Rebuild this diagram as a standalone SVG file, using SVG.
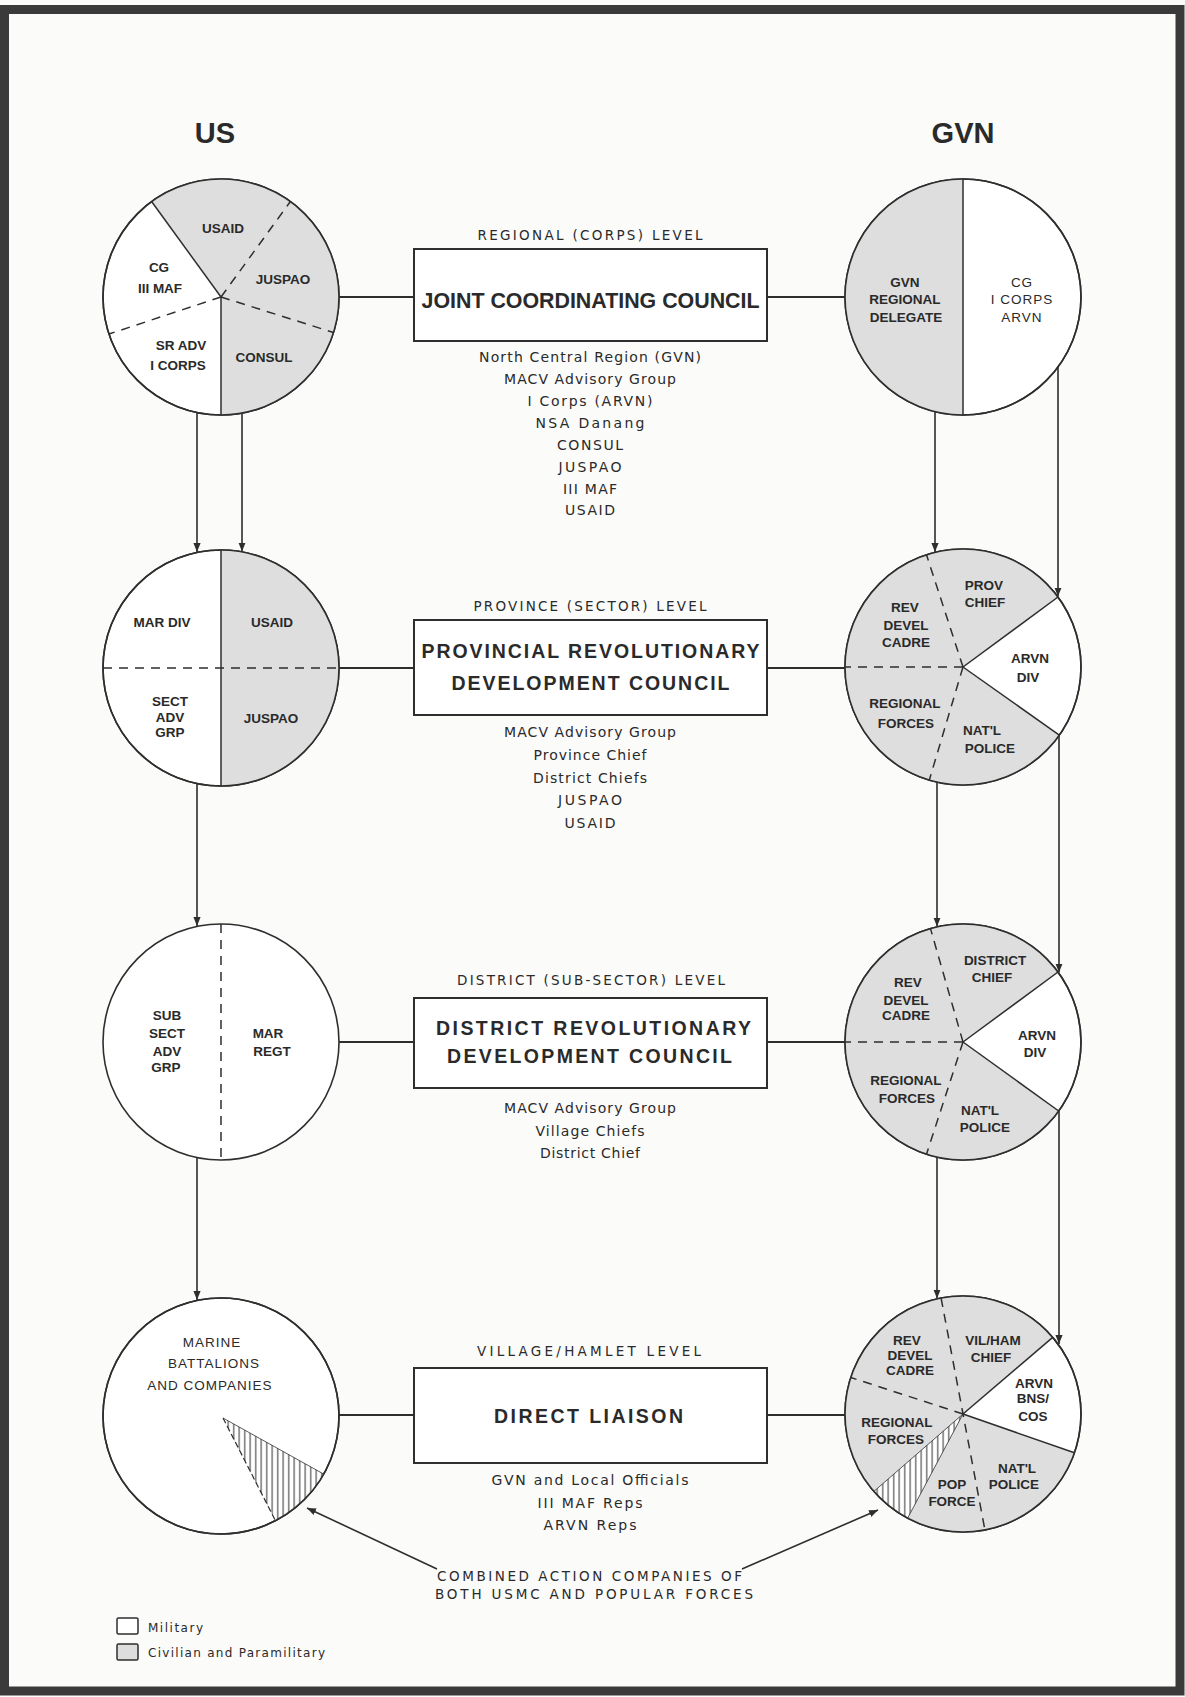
<svg xmlns="http://www.w3.org/2000/svg" width="1185" height="1697" viewBox="0 0 1185 1697">
<defs>
<style>
.c{fill:#ffffff;stroke:#2e2e2e;stroke-width:1.6}
.o{fill:none;stroke:#2e2e2e;stroke-width:1.6}
.sh{fill:#dedede;stroke:none}
.sl{stroke:#2e2e2e;stroke-width:1.5;fill:none}
.dl{stroke:#2e2e2e;stroke-width:1.5;fill:none;stroke-dasharray:9,7}
.bx{fill:#ffffff;stroke:#2e2e2e;stroke-width:2}
.cn{stroke:#2e2e2e;stroke-width:1.8;fill:none}
.ar{stroke:#2e2e2e;stroke-width:1.6;fill:none;marker-end:url(#ah)}
text{font-family:"Liberation Sans",Arial,sans-serif;fill:#2a2a2a}
.lb{font-size:13.5px;font-weight:bold;text-anchor:middle}
.lr{font-size:13.5px;text-anchor:middle;letter-spacing:1px}
.tt{font-weight:bold;text-anchor:middle}
.lv{font-family:"DejaVu Sans",sans-serif;font-size:13.5px;text-anchor:middle}
.ls{font-family:"DejaVu Sans",sans-serif;font-size:14px;text-anchor:middle}
.hd{font-size:29px;font-weight:bold;text-anchor:middle}
.lg{font-family:"DejaVu Sans",sans-serif;font-size:12px}
</style>
<marker id="ah" viewBox="0 0 10 10" refX="10" refY="5" markerWidth="9" markerHeight="9" markerUnits="userSpaceOnUse" orient="auto">
<path d="M0,1 L10,5 L0,9 Z" fill="#2e2e2e"/>
</marker>
<pattern id="hatch" patternUnits="userSpaceOnUse" width="5.5" height="10">
<rect width="5.5" height="10" fill="#ffffff"/>
<line x1="2.7" y1="0" x2="2.7" y2="10" stroke="#2e2e2e" stroke-width="1"/>
</pattern>
</defs>
<rect x="0" y="0" width="1185" height="1697" fill="#fbfbfa"/>
<rect x="4.5" y="9.5" width="1175.5" height="1681.5" fill="none" stroke="#3a3a3a" stroke-width="9"/>

<text class="hd" x="215" y="143">US</text>
<text class="hd" x="963" y="143">GVN</text>

<g id="connectors">
<line class="cn" x1="339" y1="297" x2="414" y2="297"/>
<line class="cn" x1="767" y1="297" x2="845" y2="297"/>
<line class="cn" x1="339" y1="668" x2="414" y2="668"/>
<line class="cn" x1="767" y1="668" x2="845" y2="668"/>
<line class="cn" x1="339" y1="1042" x2="414" y2="1042"/>
<line class="cn" x1="767" y1="1042" x2="845" y2="1042"/>
<line class="cn" x1="339" y1="1415" x2="414" y2="1415"/>
<line class="cn" x1="767" y1="1415" x2="845" y2="1415"/>
<line class="ar" x1="197" y1="412.5" x2="197" y2="552"/>
<line class="ar" x1="242" y1="413" x2="242" y2="551.5"/>
<line class="ar" x1="197" y1="783.5" x2="197" y2="926"/>
<line class="ar" x1="197" y1="1157.5" x2="197" y2="1300"/>
<line class="ar" x1="935" y1="411.5" x2="935" y2="552"/>
<line class="ar" x1="1058" y1="367" x2="1058" y2="596.5"/>
<line class="ar" x1="937" y1="782" x2="937" y2="926.5"/>
<line class="ar" x1="1059" y1="735.5" x2="1059" y2="972.5"/>
<line class="ar" x1="937" y1="1157" x2="937" y2="1298.5"/>
<line class="ar" x1="1059" y1="1111" x2="1059" y2="1344"/>
<line class="ar" x1="437" y1="1569" x2="307" y2="1508"/>
<line class="ar" x1="742" y1="1569" x2="878" y2="1510"/>
</g>

<g id="us-regional">
<circle class="c" cx="221" cy="297" r="118"/>
<path class="sh" d="M221,297 L151.6,201.5 A118,118 0 1,1 221,415 Z"/>
<line class="sl" x1="221" y1="297" x2="151.6" y2="201.5"/>
<line class="sl" x1="221" y1="297" x2="221" y2="415"/>
<line class="dl" x1="221" y1="297" x2="290.4" y2="201.5"/>
<line class="dl" x1="221" y1="297" x2="333.5" y2="332.5"/>
<line class="dl" x1="221" y1="297" x2="109" y2="334"/>
<circle class="o" cx="221" cy="297" r="118"/>
<text class="lb" x="223" y="233">USAID</text>
<text class="lb" x="159" y="272">CG</text>
<text class="lb" x="160" y="293">III MAF</text>
<text class="lb" x="283" y="284">JUSPAO</text>
<text class="lb" x="181" y="350">SR ADV</text>
<text class="lb" x="178" y="370">I CORPS</text>
<text class="lb" x="264" y="362">CONSUL</text>
</g>

<g id="gvn-regional">
<circle class="c" cx="963" cy="297" r="118"/>
<path class="sh" d="M963,179 A118,118 0 0,0 963,415 Z"/>
<line class="sl" x1="963" y1="179" x2="963" y2="415"/>
<circle class="o" cx="963" cy="297" r="118"/>
<text class="lb" x="905" y="287">GVN</text>
<text class="lb" x="905" y="304">REGIONAL</text>
<text class="lb" x="906" y="322">DELEGATE</text>
<text class="lr" x="1022" y="287">CG</text>
<text class="lr" x="1022" y="304">I CORPS</text>
<text class="lr" x="1022" y="322">ARVN</text>
</g>

<g id="jcc">
<text class="lv" x="590" y="240" textLength="225" lengthAdjust="spacing">REGIONAL (CORPS) LEVEL</text>
<rect class="bx" x="414" y="249" width="353" height="92"/>
<text class="tt" x="590.5" y="308" font-size="22" textLength="338" lengthAdjust="spacingAndGlyphs">JOINT COORDINATING COUNCIL</text>
<text class="ls" x="590" y="362" textLength="222" lengthAdjust="spacing">North Central Region (GVN)</text>
<text class="ls" x="590" y="384" textLength="172" lengthAdjust="spacing">MACV Advisory Group</text>
<text class="ls" x="590" y="406" textLength="125" lengthAdjust="spacing">I Corps (ARVN)</text>
<text class="ls" x="590" y="428" textLength="109" lengthAdjust="spacing">NSA  Danang</text>
<text class="ls" x="590" y="450" textLength="66" lengthAdjust="spacing">CONSUL</text>
<text class="ls" x="590" y="471.5" textLength="63" lengthAdjust="spacing">JUSPAO</text>
<text class="ls" x="590" y="493.5" textLength="54" lengthAdjust="spacing">III MAF</text>
<text class="ls" x="590" y="515" textLength="50" lengthAdjust="spacing">USAID</text>
</g>

<g id="us-province">
<circle class="c" cx="221" cy="668" r="118"/>
<path class="sh" d="M221,550 A118,118 0 0,1 221,786 Z"/>
<line class="sl" x1="221" y1="550" x2="221" y2="786"/>
<line class="dl" x1="103" y1="668" x2="339" y2="668"/>
<circle class="o" cx="221" cy="668" r="118"/>
<text class="lb" x="162" y="627">MAR DIV</text>
<text class="lb" x="272" y="627">USAID</text>
<text class="lb" x="170" y="706">SECT</text>
<text class="lb" x="170" y="722">ADV</text>
<text class="lb" x="170" y="737">GRP</text>
<text class="lb" x="271" y="723">JUSPAO</text>
</g>

<g id="gvn-province">
<circle class="c" cx="963" cy="667" r="118"/>
<path class="sh" d="M963,667 L1059.3,735.2 A118,118 0 1,1 1058,597 Z"/>
<line class="sl" x1="963" y1="667" x2="1058" y2="597"/>
<line class="sl" x1="963" y1="667" x2="1059.3" y2="735.2"/>
<line class="dl" x1="963" y1="667" x2="845" y2="667"/>
<line class="dl" x1="963" y1="667" x2="926.5" y2="554.8"/>
<line class="dl" x1="963" y1="667" x2="929.3" y2="780.1"/>
<circle class="o" cx="963" cy="667" r="118"/>
<text class="lb" x="984" y="590">PROV</text>
<text class="lb" x="985" y="607">CHIEF</text>
<text class="lb" x="905" y="612">REV</text>
<text class="lb" x="906" y="630">DEVEL</text>
<text class="lb" x="906" y="647">CADRE</text>
<text class="lb" x="1030" y="663">ARVN</text>
<text class="lb" x="1028" y="682">DIV</text>
<text class="lb" x="905" y="708">REGIONAL</text>
<text class="lb" x="906" y="728">FORCES</text>
<text class="lb" x="982" y="735">NAT'L</text>
<text class="lb" x="990" y="753">POLICE</text>
</g>

<g id="prdc">
<text class="lv" x="590" y="610.5" textLength="233" lengthAdjust="spacing">PROVINCE (SECTOR) LEVEL</text>
<rect class="bx" x="414" y="620" width="353" height="95"/>
<text class="tt" x="590.5" y="658" font-size="19.5" textLength="338" lengthAdjust="spacing">PROVINCIAL  REVOLUTIONARY</text>
<text class="tt" x="590.5" y="690" font-size="19.5" textLength="278" lengthAdjust="spacing">DEVELOPMENT COUNCIL</text>
<text class="ls" x="590" y="737" textLength="172" lengthAdjust="spacing">MACV Advisory Group</text>
<text class="ls" x="590" y="760" textLength="113" lengthAdjust="spacing">Province Chief</text>
<text class="ls" x="590" y="783" textLength="114" lengthAdjust="spacing">District Chiefs</text>
<text class="ls" x="590" y="805" textLength="64" lengthAdjust="spacing">JUSPAO</text>
<text class="ls" x="590" y="828" textLength="51" lengthAdjust="spacing">USAID</text>
</g>

<g id="us-district">
<circle class="c" cx="221" cy="1042" r="118"/>
<line class="dl" x1="221" y1="924" x2="221" y2="1160"/>
<text class="lb" x="167" y="1020">SUB</text>
<text class="lb" x="167" y="1038">SECT</text>
<text class="lb" x="167" y="1056">ADV</text>
<text class="lb" x="166" y="1072">GRP</text>
<text class="lb" x="268" y="1038">MAR</text>
<text class="lb" x="272" y="1056">REGT</text>
</g>

<g id="gvn-district">
<circle class="c" cx="963" cy="1042" r="118"/>
<path class="sh" d="M963,1042 L1058.7,1111 A118,118 0 1,1 1058,972 Z"/>
<line class="sl" x1="963" y1="1042" x2="1058" y2="972"/>
<line class="sl" x1="963" y1="1042" x2="1058.7" y2="1111"/>
<line class="dl" x1="963" y1="1042" x2="845" y2="1042"/>
<line class="dl" x1="963" y1="1042" x2="930.5" y2="928.6"/>
<line class="dl" x1="963" y1="1042" x2="926.5" y2="1154.2"/>
<circle class="o" cx="963" cy="1042" r="118"/>
<text class="lb" x="995" y="965">DISTRICT</text>
<text class="lb" x="992" y="982">CHIEF</text>
<text class="lb" x="908" y="987">REV</text>
<text class="lb" x="906" y="1005">DEVEL</text>
<text class="lb" x="906" y="1020">CADRE</text>
<text class="lb" x="1037" y="1040">ARVN</text>
<text class="lb" x="1035" y="1057">DIV</text>
<text class="lb" x="906" y="1085">REGIONAL</text>
<text class="lb" x="907" y="1103">FORCES</text>
<text class="lb" x="980" y="1115">NAT'L</text>
<text class="lb" x="985" y="1132">POLICE</text>
</g>

<g id="drdc">
<text class="lv" x="591" y="985" textLength="268" lengthAdjust="spacing">DISTRICT (SUB-SECTOR) LEVEL</text>
<rect class="bx" x="414" y="998" width="353" height="90"/>
<text class="tt" x="593.5" y="1034.5" font-size="19.5" textLength="315" lengthAdjust="spacing">DISTRICT  REVOLUTIONARY</text>
<text class="tt" x="589.5" y="1062.5" font-size="19.5" textLength="285" lengthAdjust="spacing">DEVELOPMENT  COUNCIL</text>
<text class="ls" x="590" y="1113" textLength="172" lengthAdjust="spacing">MACV Advisory Group</text>
<text class="ls" x="590" y="1136" textLength="109" lengthAdjust="spacing">Village Chiefs</text>
<text class="ls" x="590" y="1158" textLength="100" lengthAdjust="spacing">District Chief</text>
</g>

<g id="us-village">
<circle class="c" cx="221" cy="1416" r="118"/>
<path d="M223,1418 L323.7,1474.1 A118,118 0 0,1 275.5,1520.7 Z" fill="url(#hatch)" stroke="none"/>
<line x1="223" y1="1418" x2="275.5" y2="1520.7" stroke="#2e2e2e" stroke-width="1.2" stroke-dasharray="6,3"/>
<line x1="223" y1="1418" x2="323.7" y2="1474.1" stroke="#2e2e2e" stroke-width="0.8"/>
<circle class="o" cx="221" cy="1416" r="118"/>
<text class="lr" x="212" y="1347">MARINE</text>
<text class="lr" x="214" y="1368">BATTALIONS</text>
<text class="lr" x="210" y="1390">AND COMPANIES</text>
</g>

<g id="gvn-village">
<circle class="c" cx="963" cy="1414" r="118"/>
<path class="sh" d="M963,1414 L1074.4,1452.8 A118,118 0 1,1 1052.7,1337.4 Z"/>
<path d="M963,1414 L907.6,1518.2 A118,118 0 0,1 873.9,1491.4 Z" fill="url(#hatch)" stroke="#2e2e2e" stroke-width="0.8"/>
<line class="sl" x1="963" y1="1414" x2="1052.7" y2="1337.4"/>
<line class="sl" x1="963" y1="1414" x2="1074.4" y2="1452.8"/>
<line class="dl" x1="941.1" y1="1298.1" x2="984.9" y2="1529.9"/>
<line class="dl" x1="963" y1="1414" x2="850.8" y2="1377.5"/>
<circle class="o" cx="963" cy="1414" r="118"/>
<text class="lb" x="907" y="1345">REV</text>
<text class="lb" x="910" y="1360">DEVEL</text>
<text class="lb" x="910" y="1375">CADRE</text>
<text class="lb" x="993" y="1345">VIL/HAM</text>
<text class="lb" x="991" y="1362">CHIEF</text>
<text class="lb" x="1034" y="1388">ARVN</text>
<text class="lb" x="1033" y="1403">BNS/</text>
<text class="lb" x="1033" y="1421">COS</text>
<text class="lb" x="897" y="1427">REGIONAL</text>
<text class="lb" x="896" y="1444">FORCES</text>
<text class="lb" x="1017" y="1473">NAT'L</text>
<text class="lb" x="1014" y="1489">POLICE</text>
<text class="lb" x="952" y="1489">POP</text>
<text class="lb" x="952" y="1506">FORCE</text>
</g>

<g id="dl">
<text class="lv" x="589" y="1356" textLength="224" lengthAdjust="spacing">VILLAGE/HAMLET LEVEL</text>
<rect class="bx" x="414" y="1368" width="353" height="95"/>
<text class="tt" x="588.5" y="1423" font-size="19.5" textLength="189" lengthAdjust="spacing">DIRECT LIAISON</text>
<text class="ls" x="590" y="1485" textLength="197" lengthAdjust="spacing">GVN and Local Officials</text>
<text class="ls" x="590" y="1508" textLength="105" lengthAdjust="spacing">III MAF Reps</text>
<text class="ls" x="590" y="1530" textLength="93" lengthAdjust="spacing">ARVN Reps</text>
</g>

<g id="combined-note">
<text class="lv" x="589.5" y="1581" textLength="305" lengthAdjust="spacing">COMBINED ACTION COMPANIES OF</text>
<text class="lv" x="594" y="1599" textLength="318" lengthAdjust="spacing">BOTH USMC AND POPULAR FORCES</text>
</g>

<g id="legend">
<rect x="117" y="1618" width="21" height="16" fill="#ffffff" stroke="#2e2e2e" stroke-width="1.5" rx="1.5"/>
<text class="lg" x="148" y="1632" textLength="55" lengthAdjust="spacing">Military</text>
<rect x="117" y="1644" width="21" height="16" fill="#dedede" stroke="#2e2e2e" stroke-width="1.5" rx="1.5"/>
<text class="lg" x="148" y="1657" textLength="177" lengthAdjust="spacing">Civilian and Paramilitary</text>
</g>
</svg>
